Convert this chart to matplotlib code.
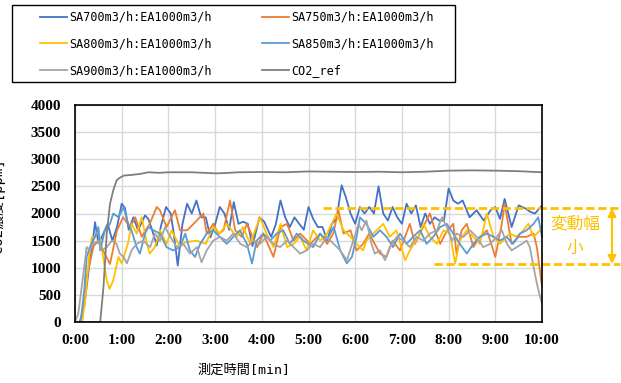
import matplotlib
matplotlib.use('Agg')
import matplotlib.pyplot as plt
from matplotlib.patches import Rectangle

# time [min] / CO2 [ppm]
t_sa700 = [0, 0.1, 0.2, 0.3, 0.36, 0.43, 0.5, 0.57, 0.7, 0.8,
           0.9, 1.0, 1.07, 1.15, 1.25, 1.35, 1.5, 1.57, 1.65, 1.75,
           1.85, 1.95, 2.05, 2.12, 2.2, 2.3, 2.4, 2.5, 2.6, 2.7,
           2.8, 2.9, 3.0, 3.1, 3.2, 3.3, 3.4, 3.5, 3.6, 3.7,
           3.8, 3.95, 4.05, 4.2, 4.3, 4.4, 4.5, 4.6, 4.7, 4.8,
           4.9, 5.0, 5.1, 5.2, 5.3, 5.4, 5.5, 5.6, 5.71, 5.8,
           5.9, 6.0, 6.1, 6.2, 6.3, 6.4, 6.5, 6.6, 6.7, 6.8,
           6.9, 7.0, 7.1, 7.2, 7.3, 7.4, 7.5, 7.6, 7.7, 7.8,
           7.9, 8.0, 8.1, 8.2, 8.3, 8.45, 8.6, 8.75, 8.9, 9.0,
           9.1, 9.2, 9.35, 9.5, 9.65, 9.75, 9.85, 10.0]
co2_sa700 = [0, 0, 300, 1000, 1350, 1840, 1450, 1560, 1810, 1500,
             1750, 2180, 2100, 1700, 1930, 1690, 1965, 1900, 1700, 1410,
             1800, 2120, 2000, 1600, 1040, 1800, 2180, 2000, 2240, 1930,
             1930, 1560, 1800, 2120, 2000, 1700, 2210, 1810, 1850, 1810,
             1400, 1930, 1850, 1570, 1800, 2240, 1930, 1750, 1930, 1810,
             1700, 2120, 1900, 1750, 1750, 1500, 1810, 1900, 2520, 2300,
             2000, 1810, 2120, 2000, 2120, 2000, 2500, 2000, 1870, 2120,
             1930, 1810, 2180, 2000, 2150, 1750, 2000, 1810, 1930, 1870,
             1870, 2460, 2240, 2180, 2240, 1930, 2060, 1870, 2060, 2120,
             1900, 2270, 1750, 2150, 2090, 2030, 2000, 2150]

t_sa750 = [0, 0.15, 0.25, 0.32, 0.4, 0.5, 0.6, 0.75, 0.9, 1.03,
           1.18, 1.29, 1.43, 1.6, 1.75, 1.82, 1.96, 2.14, 2.25, 2.4,
           2.54, 2.75, 2.82, 2.96, 3.07, 3.18, 3.32, 3.43, 3.57, 3.68,
           3.9, 4.03, 4.25, 4.4, 4.54, 4.68, 4.82, 5.04, 5.25, 5.4,
           5.53, 5.64, 5.75, 5.9, 6.03, 6.17, 6.3, 6.53, 6.67, 6.8,
           6.96, 7.17, 7.28, 7.42, 7.6, 7.71, 7.82, 7.93, 8.1, 8.17,
           8.28, 8.39, 8.53, 8.67, 8.82, 9.0, 9.14, 9.2, 9.35, 9.5,
           9.67, 9.82, 9.89, 10.0]
co2_sa750 = [0, 0, 830, 1100, 1400, 1500, 1320, 1070, 1690, 1930,
             1750, 1930, 1570, 1810, 2120, 2060, 1750, 2060, 1690, 1690,
             1810, 2000, 1630, 1810, 1630, 1690, 2240, 1690, 1570, 1810,
             1380, 1630, 1200, 1750, 1810, 1500, 1630, 1440, 1630, 1440,
             1630, 2060, 1630, 1690, 1320, 1440, 1630, 1260, 1200, 1500,
             1320, 1810, 1440, 1690, 2000, 1690, 1440, 1630, 1810, 1260,
             1690, 1810, 1380, 1570, 1690, 1200, 1810, 2180, 1440, 1570,
             1570, 1630, 1380, 650]

t_sa800 = [0, 0.15, 0.22, 0.3, 0.36, 0.43, 0.5, 0.57, 0.68, 0.74,
           0.82, 0.93, 1.0, 1.14, 1.21, 1.32, 1.43, 1.54, 1.6, 1.71,
           1.82, 1.96, 2.07, 2.14, 2.25, 2.36, 2.6, 2.8, 2.96, 3.1,
           3.25, 3.46, 3.6, 3.75, 3.96, 4.1, 4.25, 4.4, 4.54, 4.68,
           4.82, 4.96, 5.1, 5.25, 5.4, 5.6, 5.75, 5.9, 6.03, 6.17,
           6.24, 6.46, 6.6, 6.74, 6.88, 7.07, 7.17, 7.35, 7.46, 7.6,
           7.75, 7.89, 8.03, 8.14, 8.24, 8.39, 8.53, 8.67, 8.82, 8.96,
           9.1, 9.31, 9.46, 9.6, 9.71, 9.82, 9.96, 10.0]
co2_sa800 = [0, 0, 400, 1200, 1560, 1570, 1690, 1380, 770, 610,
             770, 1200, 1080, 1470, 1810, 1630, 1930, 1440, 1260, 1380,
             1690, 1440, 1690, 1570, 1380, 1470, 1500, 1440, 1750, 1630,
             1810, 1570, 1750, 1440, 1930, 1630, 1380, 1810, 1380, 1440,
             1570, 1320, 1690, 1500, 1630, 2000, 1690, 1570, 1440, 1320,
             1500, 1690, 1810, 1570, 1690, 1140, 1320, 1570, 1810, 1570,
             1440, 1690, 1630, 1080, 1500, 1690, 1570, 1440, 2000, 1570,
             1440, 1630, 1570, 1690, 1810, 1570, 1690, 1750]

t_sa850 = [0, 0.12, 0.2, 0.25, 0.32, 0.43, 0.5, 0.54, 0.64, 0.75,
           0.82, 0.93, 1.04, 1.14, 1.21, 1.32, 1.39, 1.5, 1.57, 1.68,
           1.82, 1.96, 2.1, 2.25, 2.36, 2.46, 2.57, 2.68, 2.82, 2.96,
           3.1, 3.25, 3.39, 3.53, 3.68, 3.79, 3.89, 4.03, 4.18, 4.32,
           4.46, 4.6, 4.75, 4.89, 5.1, 5.25, 5.39, 5.54, 5.68, 5.82,
           5.93, 6.03, 6.1, 6.24, 6.39, 6.53, 6.67, 6.81, 6.96, 7.1,
           7.24, 7.39, 7.53, 7.67, 7.82, 7.96, 8.1, 8.24, 8.39, 8.53,
           8.67, 8.82, 8.96, 9.1, 9.24, 9.38, 9.53, 9.67, 9.82, 9.92,
           10.0]
co2_sa850 = [0, 0, 600, 1200, 1380, 1570, 1750, 1320, 1690, 1810,
             2000, 1930, 2120, 1810, 1690, 1380, 1260, 1630, 1750, 1690,
             1630, 1380, 1320, 1380, 1630, 1320, 1200, 1440, 1630, 1690,
             1570, 1440, 1570, 1690, 1440, 1080, 1500, 1630, 1500, 1630,
             1690, 1440, 1630, 1500, 1380, 1630, 1500, 1750, 1320, 1080,
             1200, 1570, 1930, 1810, 1570, 1690, 1570, 1380, 1630, 1440,
             1570, 1690, 1440, 1570, 1750, 1810, 1630, 1440, 1260, 1440,
             1570, 1630, 1570, 1500, 1570, 1440, 1630, 1690, 1810, 1930,
             1570]

t_sa900 = [0, 0.07, 0.18, 0.25, 0.32, 0.39, 0.5, 0.57, 0.68, 0.79,
           0.89, 0.96, 1.04, 1.11, 1.21, 1.32, 1.46, 1.61, 1.71, 1.82,
           1.93, 2.04, 2.18, 2.32, 2.46, 2.61, 2.71, 2.82, 2.96, 3.1,
           3.25, 3.39, 3.54, 3.68, 3.82, 3.96, 4.1, 4.25, 4.39, 4.54,
           4.68, 4.82, 4.96, 5.1, 5.25, 5.39, 5.54, 5.68, 5.82, 5.96,
           6.07, 6.14, 6.24, 6.35, 6.42, 6.53, 6.64, 6.74, 6.89, 7.03,
           7.17, 7.31, 7.46, 7.6, 7.75, 7.86, 7.96, 8.07, 8.17, 8.32,
           8.46, 8.6, 8.74, 8.89, 9.03, 9.14, 9.25, 9.35, 9.46, 9.57,
           9.67, 9.74, 9.82, 9.89, 9.96, 10.0]
co2_sa900 = [0, 150, 890, 1380, 1320, 1440, 1500, 1320, 1380, 1500,
             1440, 1260, 1200, 1080, 1320, 1440, 1500, 1380, 1630, 1500,
             1750, 1570, 1380, 1440, 1260, 1380, 1100, 1320, 1500, 1570,
             1500, 1630, 1440, 1380, 1500, 1440, 1570, 1440, 1380, 1500,
             1380, 1260, 1320, 1440, 1380, 1570, 1440, 1320, 1140, 1500,
             1810, 1690, 1870, 1440, 1260, 1320, 1140, 1380, 1570, 1500,
             1380, 1570, 1500, 1630, 1690, 1930, 1750, 1500, 1630, 1570,
             1690, 1570, 1380, 1440, 1570, 1690, 1440, 1320, 1380, 1440,
             1500, 1380, 1010, 710, 460, 340]

t_ref = [0, 0.54, 0.61, 0.68, 0.75, 0.82, 0.89, 0.96, 1.05, 1.2,
         1.4, 1.57, 1.8, 2.0, 2.5, 3.0, 3.2, 3.5, 4.0, 4.5,
         5.0, 5.5, 6.0, 6.5, 7.0, 7.5, 8.0, 8.5, 9.0, 9.5, 10.0]
co2_ref = [0, 0, 650, 1630, 2180, 2430, 2610, 2660, 2700, 2710,
           2730, 2760, 2750, 2760, 2760, 2740, 2745, 2760, 2765, 2760,
           2775, 2770, 2765, 2770, 2760, 2770, 2790, 2795, 2790, 2780, 2760]

labels = ['SA700m3/h:EA1000m3/h', 'SA750m3/h:EA1000m3/h', 'SA800m3/h:EA1000m3/h',
          'SA850m3/h:EA1000m3/h', 'SA900m3/h:EA1000m3/h', 'CO2_ref']
colors = ['#4472C4', '#ED7D31', '#FFC000', '#5B9BD5', '#A5A5A5', '#7F7F7F']

xtick_labels = ['0:00', '1:00', '2:00', '3:00', '4:00', '5:00',
                '6:00', '7:00', '8:00', '9:00', '10:00']

# band of variation (dashed lines)
band_hi = 2100
band_lo = 1070
band_hi_start = 5.32
band_lo_start = 7.69

W, H = 621, 383
mono_cjk = ['DejaVu Sans Mono', 'Noto Sans CJK JP']
gold = '#FFC000'

fig = plt.figure(figsize=(W / 100, H / 100), dpi=100)
ax = fig.add_axes([75 / W, 1 - 322 / H, 467 / W, 217 / H])

series = [(t_sa700, co2_sa700), (t_sa750, co2_sa750), (t_sa800, co2_sa800),
          (t_sa850, co2_sa850), (t_sa900, co2_sa900), (t_ref, co2_ref)]
lines = []
for (t, v), lab, c in zip(series, labels, colors):
    ln, = ax.plot(t, v, color=c, lw=1.3, label=lab)
    lines.append(ln)

ax.set_xlim(0, 10)
ax.set_ylim(0, 4000)
ax.set_xticks(range(11))
ax.set_xticklabels(xtick_labels)
ax.set_yticks(range(0, 4001, 500))
for lab in ax.get_xticklabels() + ax.get_yticklabels():
    lab.set_fontfamily('Liberation Serif')
    lab.set_fontweight('bold')
    lab.set_fontsize(11)
ax.tick_params(axis='x', length=0, pad=8.5)
ax.tick_params(axis='y', length=0, pad=10)
ax.grid(True, color='#D9D9D9', lw=1)
ax.set_axisbelow(True)
for s in ax.spines.values():
    s.set_color('black')
    s.set_linewidth(1.2)

# dashed band lines reaching out past the plot area
x_end = (620 - 75) / 467 * 10
ax.plot([band_hi_start, x_end], [band_hi, band_hi], color=gold, lw=2,
        ls=(0, (3, 1.3)), clip_on=False)
ax.plot([band_lo_start, x_end], [band_lo, band_lo], color=gold, lw=2,
        ls=(0, (3, 1.3)), clip_on=False)
x_arrow = (612 - 75) / 467 * 10
ax.annotate('', xy=(x_arrow, band_lo), xytext=(x_arrow, band_hi),
            arrowprops=dict(arrowstyle='<|-|>', color=gold, lw=1.5,
                            mutation_scale=12, shrinkA=0, shrinkB=0),
            annotation_clip=False)
ax.text((575 - 75) / 467 * 10, (band_hi + band_lo) / 2, '変動幅\n小',
        ha='center', va='center', color=gold, fontsize=12,
        family='Noto Sans CJK JP', linespacing=1.55)

# axis titles
fig.text(244 / W, 1 - 370 / H, '測定時間[min]', ha='center', va='center',
         family=mono_cjk, fontsize=9.5)
fig.text(-2 / W, 1 - 206 / H, 'CO2濃度[ppm]', rotation=90, ha='center',
         va='center', family=mono_cjk, fontsize=10)

# legend: two columns with a box around them
leg_kw = dict(loc='upper left', frameon=False, borderpad=0, borderaxespad=0,
              handlelength=2.3, handletextpad=0.15, labelspacing=1.15,
              prop={'family': mono_cjk, 'size': 8.5})
fig.legend(handles=[lines[0], lines[2], lines[4]],
           bbox_to_anchor=(40 / W, 1 - 11 / H), **leg_kw)
fig.legend(handles=[lines[1], lines[3], lines[5]],
           bbox_to_anchor=(262 / W, 1 - 11 / H), **leg_kw)
fig.add_artist(Rectangle((12 / W, 1 - 82 / H), 443 / W, 77 / H,
                         transform=fig.transFigure, fill=False,
                         ec='black', lw=1))

fig.savefig('out.png', dpi=100)
